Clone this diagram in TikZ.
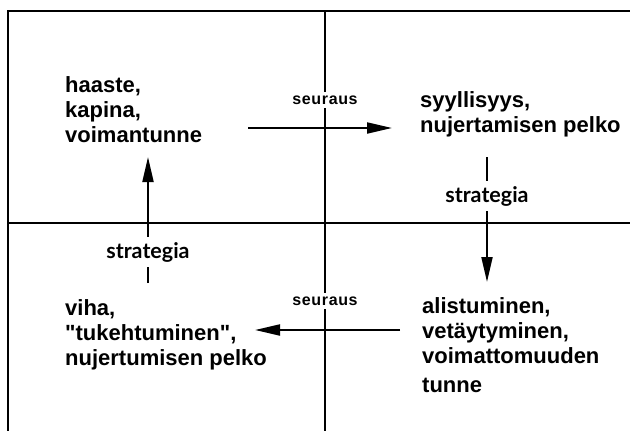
\documentclass[tikz,border=0pt]{standalone}
\usepackage{fontspec}
\setmainfont{Liberation Sans}[Ligatures=TeXOff]
\newfontfamily\seufont[LetterSpace=4]{Liberation Sans}
\newfontfamily\strfont{Lato}
\usetikzlibrary{arrows.meta}

\tikzset{
  frame/.style={line width=2pt},
  divider/.style={line width=1.6pt},
  state/.style={anchor=north west, inner sep=0pt, align=left,
    font=\bfseries\fontsize{22}{25}\selectfont},
  flow/.style={line width=2pt, -{Triangle[length=25pt,width=11pt]}},
  seulbl/.style={fill=white, inner xsep=2pt, inner ysep=4pt,
    font=\seufont\bfseries\fontsize{16}{18}\selectfont},
  strlbl/.style={fill=white, inner xsep=2pt, inner ysep=5pt,
    font=\strfont\bfseries\fontsize{21.5}{24}\selectfont}
}

\begin{document}
\begin{tikzpicture}[x=1pt,y=-1pt]
\useasboundingbox (0,0) rectangle (630,431);

% frame and quadrant lines
\draw[frame] (8,431) -- (8,11) -- (630,11);
\draw[divider] (8,223) -- (630,223);
\draw[divider, line width=1.5pt] (325,11) -- (325,431);

% the four states
\node[state] (haaste) at (65,76) {haaste,\\kapina,\\voimantunne};
\node[state] (syyl) at (420,91) {syyllisyys,\\nujertamisen pelko};
\node[state] (alist) at (422,297) {alistuminen,\\vet\"aytyminen,\\voimattomuuden\\[4pt]tunne};
\node[state] (viha) at (65,299) {viha,\\"tukehtuminen",\\nujertumisen pelko};

% arrow end points
\coordinate (c1s) at (248,128);
\coordinate (c1e) at (392,128);
\coordinate (c2s) at (487,157);
\coordinate (c2e) at (487,282);
\coordinate (c3s) at (400,330);
\coordinate (c3e) at (255,330);
\coordinate (c4s) at (148,283);
\coordinate (c4e) at (148,157);

% arrows
\draw[flow] (c1s) -- (c1e);
\draw[flow] (c2s) -- (c2e);
\draw[flow] (c3s) -- (c3e);
\draw[flow] (c4s) -- (c4e);

% labels
\node[seulbl] (seu1) at (325,100) {seuraus};
\node[seulbl] (seu2) at (325,301) {seuraus};
\node[strlbl] (str1) at (487,196) {strategia};
\node[strlbl] (str2) at (148,252) {strategia};
\end{tikzpicture}
\end{document}
